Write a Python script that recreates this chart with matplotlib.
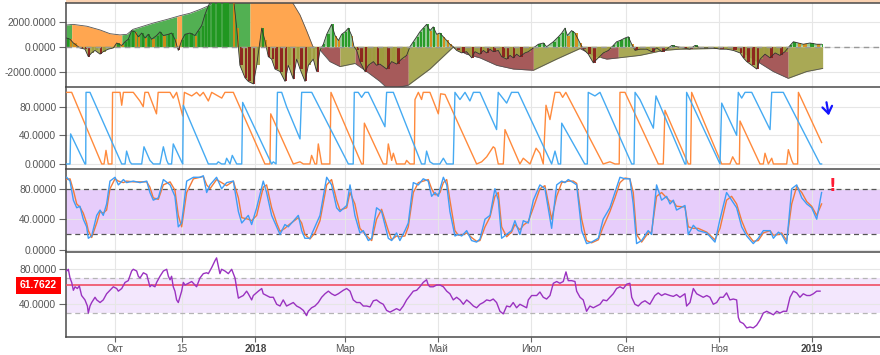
import numpy as np
import datetime as dt
import matplotlib
matplotlib.use("Agg")
import matplotlib.pyplot as plt
import matplotlib.dates as mdates
import matplotlib.transforms as mtransforms
from matplotlib.ticker import FixedLocator, FuncFormatter

plt.rcParams['font.family'] = ['Liberation Sans', 'DejaVu Sans']
plt.rcParams['axes.unicode_minus'] = False

START = mdates.date2num(dt.datetime(2017, 8, 30))

# ---------------- DATA (day offsets from 2017-08-30) ----------------
# Panel 1: smooth envelope (signed) and its regimes
env_days = [0.3, 4.5, 13.6, 22.2, 28.7, 35.3, 39.9, 43.8, 50.4, 56.9, 66.1, 74.6, 81.2, 87.7,
            94.3, 98.2, 113.9, 133.6, 148.7, 153.3, 157.7, 161.8, 166.4, 172.9, 179.5, 189.4,
            197.0, 205.7, 210.1, 216.7, 224.3, 238.5, 253.6, 262.5, 271.3, 282.2, 293.2, 306.3,
            321.6, 336.9, 345.6, 354.4, 362.0, 376.2, 391.5, 402.4, 424.3, 439.7, 450.6, 463.6,
            473.4, 485.5, 496.0]
env_vals = [1750, 1800, 1650, 1350, 1050, 950, 1000, 1400, 1650, 1900, 2200, 2500, 2700, 3000,
            3350, 3800, 4500, 4500, 3500, 2560, 1270, 0, -270, -1200, -1600, -1350,
            -2000, -2800, -3300, -3300, -3100, -1800, -50, -600, -900, -1500, -1800, -1900,
            -1000, -150, -700, -1000, -900, -700, -300, -200, -150, -150, -1000, -2000,
            -2550, -2000, -1750]
env_regime_bounds = [0, 3.6, 36.5, 72.5, 75.7, 120.5, 161.8, 179.5, 189.4, 224.3, 253.6,
                     306.3, 336.9, 362.0, 440.0, 473.4, 496.0]
env_regime = ['up', 'down', 'up', 'down', 'up', 'down', 'fall', 'rise', 'fall', 'rise',
              'fall', 'rise', 'fall', 'rise', 'fall', 'rise']

# Panel 1: detailed oscillator
osc_days = [0.3, 2.5, 4.7, 9.0, 12.3, 14.5, 16.7, 18.9, 22.2, 24.3, 27.6, 30.9, 33.1, 36.4, 38.6,
            40.7, 42.9, 45.1, 47.3, 49.5, 51.7, 53.8, 56.0, 59.3, 61.5, 63.7, 67.0, 69.1, 71.3, 73.5,
            75.7, 77.9, 81.2, 84.4, 86.6, 88.8, 91.0, 93.2, 95.4, 98.6, 103.0, 109.6, 111.8, 113.9,
            117.2, 119.4, 122.7, 124.9, 128.2, 130.3, 132.5, 134.7, 136.9,
            140.2, 143.5, 145.6, 148.9, 151.1, 153.3, 156.6, 158.8, 162.0, 164.2, 166.4, 168.6,
            170.8, 174.0, 176.3, 178.5, 180.6, 182.8, 185.0, 187.2, 188.7, 190.5, 192.6, 195.9,
            198.1, 201.4, 203.5, 205.7, 210.1, 213.4, 216.7, 219.9, 223.2, 225.4, 227.6, 229.8,
            231.9, 234.1, 236.3, 238.5, 240.7, 242.9, 245.0, 247.3, 249.5, 251.6, 253.8, 256.0,
            259.3, 262.5, 265.9, 268.0, 271.3, 273.5, 275.7, 277.9, 280.0, 283.3, 285.5, 288.8,
            291.0, 293.2, 295.3, 297.5, 300.8, 303.0, 306.3, 309.6, 312.9, 315.0, 319.4, 322.7,
            324.9, 327.1, 328.6, 331.4, 333.6,
            336.9, 339.1, 342.3, 345.6, 348.9, 352.2, 355.5, 358.7, 360.9, 363.1, 366.4, 368.6,
            370.8, 373.0, 376.2, 380.6, 383.9, 387.2, 390.5, 393.8, 397.0, 400.3, 404.6, 409.0,
            412.3, 415.6, 420.0, 424.3, 428.7, 433.0, 437.4, 441.8, 444.0, 446.2, 449.5, 452.8,
            455.0, 458.2, 461.5, 464.8, 468.0, 471.3, 474.6, 476.8, 480.0, 483.3, 487.7, 492.1,
            495.3]
osc_vals = [700, 600, 300, -100, -200, -800, -500, -300, -600, -400, -200, -100, 300, 100, 400,
            600, 1300, 1200, 800, 1100, 700, 1000, 600, 900, 1200, 900, 1000, 1100, 600, -300,
            500, 1000, 1100, 900, 1300, 1700, 2600, 3300, 3800, 4000, 4200, 4000, 1500, -1500,
            -2500, -2800, -3000, -1500, 1500, 500, -800, -1000, -1800,
            -2000, -2800, -1500, -2600, -1000, -1800, -2800, -1500, -1000, -2000, -300, 200,
            1000, 1800, 900, 500, 1000, 1200, 1500, 900, 0, -300, -1200, -2000,
            -1500, -1200, -1500, -1400, -1800, -1200, -1400, -1000, -700, 0, 400, 800,
            1200, 1500, 1800, 1300, 1600, 1000, 1100, 800, 500, 200, 0, -300,
            -500, -400, -900, -400, -600, -300, -500, -200, -400, -300, -800, -1000,
            -700, -900, -600, -800, -500, -400, -100, 200, 300, 0, 400, 800,
            1100, 1500, 900, 1300, 1100,
            300, -200, -600, -1300, -900, -500, -300, 100, 400, 500, 700, 800,
            200, -300, -200, -200, -400, -100, -400, -200, 100, 0, -100, -200,
            100, -100, -100, -100, -200, -200, -300, -500, -900, -1200, -1500, -1800,
            -1000, -600, -900, -500, -700, -400, 100, 400, 300, 200, 300, 200,
            200]

# Panel 2: Aroon up (orange) / Aroon down (blue)
aroon_up_days = [0.3, 3.6, 23.3, 24.8, 26.1, 27.6, 30.0, 30.4, 35.3, 36.4, 37.5, 44.0, 48.3, 50.5,
                 51.6, 53.8, 59.2, 60.3, 68.1, 70.2, 72.4, 76.4, 77.5, 82.3, 85.5, 87.7, 89.9,
                 93.2, 95.4, 102.0, 104.1, 109.6, 130.3, 133.6, 134.1, 148.9, 153.3, 155.5, 159.8,
                 160.9, 163.1, 164.2, 165.3, 167.5, 172.9, 173.6, 193.7, 194.8, 195.5, 207.9,
                 210.1, 211.2, 213.4, 214.5, 216.6, 222.1, 223.2, 225.4, 228.2, 228.7, 230.9,
                 233.0, 234.1, 238.5, 244.0, 245.5, 248.4, 269.1, 272.4, 275.7, 280.0, 281.1,
                 283.3, 286.6, 287.7, 297.5, 299.7, 304.1, 308.1, 310.6, 312.8, 314.6, 317.2,
                 320.5, 323.7, 325.5, 327.6, 352.1, 356.5, 359.8, 362.6, 363.1, 366.4, 388.2,
                 391.5, 392.6, 407.9, 409.4, 410.1, 429.8, 435.2, 437.0, 439.6, 441.4, 441.8,
                 454.9, 457.1, 458.2, 460.4, 462.6, 463.7, 472.4, 473.5, 475.7, 476.8, 479.6,
                 480.1, 495.3]
aroon_up = [100, 100, 0, 0, 19, 0, 0, 100, 100, 82, 100, 100, 88, 80,
            100, 100, 70, 100, 100, 92, 100, 67, 100, 95, 100, 95, 100,
            88, 100, 92, 100, 100, 0, 0, 70, 0, 3, 0, 0,
            12, 0, 0, 28, 0, 0, 100, 0, 0, 57, 0,
            0, 28, 5, 15, 0, 0, 5, 0, 0, 90, 100,
            90, 100, 100, 70, 98, 97, 0, 3, 10, 24, 22,
            0, 0, 48, 0, 8, 0, 22, 15, 0, 82, 62,
            100, 100, 93, 100, 0, 3, 0, 0, 100, 100, 0,
            0, 75, 0, 0, 100, 0, 0, 10, 0, 0, 60,
            0, 0, 15, 0, 8, 0, 0, 20, 5, 0, 0,
            100, 30]
aroon_dn_days = [0.3, 2.5, 2.9, 12.3, 12.8, 13.0, 15.6, 36.4, 38.6, 39.6, 41.8, 42.9, 49.5, 51.0,
                 54.9, 57.1, 61.5, 63.7, 65.9, 67.0, 69.1, 70.2, 75.7, 76.4, 76.8, 93.2, 98.6,
                 99.7, 101.9, 104.1, 105.2, 107.4, 108.9, 111.8, 115.1, 115.7, 134.7, 135.8,
                 137.6, 138.5, 141.3, 144.5, 153.3, 154.4, 161.0, 185.0, 188.2, 188.9, 191.5,
                 193.7, 195.9, 198.1, 209.0, 210.1, 214.5, 233.0, 235.2, 236.3, 238.5, 240.7,
                 245.0, 247.3, 249.5, 253.8, 254.9, 258.2, 261.5, 264.7, 267.0, 271.3, 282.2,
                 283.3, 288.8, 292.0, 296.4, 318.3, 320.5, 322.7, 324.2, 324.9, 340.0, 341.7,
                 342.3, 346.7, 350.0, 370.8, 372.3, 373.0, 376.2, 385.0, 386.7, 405.7, 406.4,
                 406.8, 428.7, 429.8, 439.6, 440.7, 442.9, 445.1, 449.5, 461.5, 462.6, 470.2,
                 494.3, 495.3]
aroon_dn = [0, 0, 42, 0, 0, 100, 100, 0, 0, 18, 3, 0, 0, 24,
            5, 0, 0, 24, 5, 0, 0, 28, 3, 0, 82, 0, 0,
            3, 0, 0, 8, 0, 12, 0, 0, 86, 0, 3,
            0, 100, 100, 80, 35, 100, 100, 0, 0, 100, 100,
            93, 100, 100, 52, 100, 100, 0, 0, 18, 3, 0,
            0, 8, 0, 0, 100, 90, 100, 88, 100, 100, 48,
            100, 85, 100, 100, 0, 18, 0, 0, 57, 0, 0,
            100, 95, 100, 0, 0, 100, 90, 50, 95, 0, 0,
            100, 0, 85, 40, 100, 92, 100, 100, 48, 100, 100,
            0, 0]

# Panel 3: Stochastic %K (blue) and %D (orange)
stoch_days = [0.3, 2.5, 4.7, 6.9, 9.0, 11.2, 13.4, 14.5, 16.7, 20.0, 22.2, 24.3, 26.5, 28.7, 32.0,
              34.2, 37.5, 39.6, 44.0, 48.4, 52.8, 54.9, 57.1, 60.4, 63.7, 68.1, 71.3, 73.5, 75.7,
              79.0, 83.4, 87.7, 89.9, 92.1, 94.3, 98.6, 101.9, 105.2, 109.6, 112.9, 115.1, 119.4,
              121.6, 124.9, 129.2, 131.4, 134.7, 138.0, 140.2, 143.4, 145.6, 152.2, 154.4, 156.5,
              159.8, 163.1, 166.4, 170.8, 174.0, 177.3, 179.5, 183.9, 186.1, 189.3, 192.6, 194.8,
              198.1, 200.3, 203.5, 206.8, 211.2, 213.4, 216.6, 218.8, 222.1, 224.3, 227.6, 230.9,
              234.1, 237.4, 239.6, 241.8, 244.0,
              245.1, 247.3, 249.5, 251.6, 254.9, 257.1, 259.3, 262.6, 265.8, 269.1, 271.3, 274.6,
              277.9, 281.1, 283.3, 285.5, 288.8, 292.0, 294.2, 297.5, 299.7, 303.0, 306.3, 310.6,
              313.9, 318.3, 321.6, 324.9, 327.0, 329.2, 332.5, 334.7, 338.0, 341.2, 344.5, 348.9,
              352.1, 356.5, 359.8, 363.1, 366.4, 369.6, 371.8, 374.0, 377.3, 381.6, 383.8, 387.1,
              390.4, 393.7, 395.9, 398.1, 400.2, 405.7, 407.9, 411.2, 414.4, 420.0, 425.4, 428.7,
              433.0, 436.3, 439.6, 442.9, 446.2, 450.5, 453.8, 457.1, 461.5, 463.7, 467.0, 469.1,
              472.4, 475.7, 479.0, 482.3, 485.6, 488.8, 492.1, 495.3]
stoch_k = [95, 90, 65, 55, 57, 40, 30, 15, 18, 45, 52, 45, 60, 90, 95,
           85, 92, 88, 90, 88, 90, 75, 65, 68, 92, 85, 70, 30, 35,
           90, 95, 95, 97, 75, 85, 95, 80, 88, 90, 50, 35, 45,
           33, 55, 90, 75, 45, 30, 20, 33, 30, 45, 25, 15,
           15, 30, 45, 95, 85, 55, 50, 58, 85, 45, 22, 25,
           12, 15, 55, 50, 15, 12, 22, 12, 25, 35, 88, 85,
           93, 90, 70, 75, 70,
           80, 95, 85, 50, 18, 20, 18, 25, 12, 10, 14, 40,
           45, 80, 65, 15, 20, 25, 38, 20, 38, 35, 65, 85,
           80, 28, 85, 90, 88, 92, 88, 85, 25, 8, 10, 15,
           40, 55, 75, 95, 93, 93, 60, 8, 12, 25, 20, 85,
           65, 70, 60, 65, 52, 58, 20, 32, 25, 22, 10, 40,
           75, 65, 55, 30, 18, 8, 15, 25, 25, 15, 23, 20,
           8, 80, 85, 68, 60, 55, 40, 75]
stoch_d = [92, 93, 78, 60, 56, 48, 35, 25, 16, 35, 50, 48, 52, 80, 93,
           90, 88, 90, 89, 89, 89, 82, 68, 66, 85, 89, 78, 45, 30,
           75, 93, 95, 96, 85, 80, 92, 88, 84, 90, 68, 42, 40,
           38, 45, 82, 85, 55, 35, 24, 28, 32, 42, 35, 20,
           14, 22, 38, 85, 92, 65, 52, 55, 75, 60, 28, 23,
           16, 12, 40, 53, 25, 13, 18, 17, 18, 30, 75, 88,
           90, 92, 80, 72, 73,
           75, 88, 92, 65, 25, 19, 19, 22, 16, 11, 12, 30,
           43, 70, 75, 30, 17, 23, 33, 26, 32, 37, 55, 80,
           84, 40, 70, 88, 89, 90, 90, 87, 40, 12, 9, 13,
           30, 50, 68, 88, 94, 93, 75, 20, 10, 22, 23, 70,
           75, 68, 64, 63, 57, 56, 30, 28, 28, 23, 13, 28,
           65, 70, 60, 38, 22, 11, 12, 22, 25, 19, 20, 22,
           12, 60, 83, 75, 63, 57, 45, 60]

# Panel 4: RSI
rsi_days = [0.3, 1.4, 2.5, 3.6, 4.7, 5.8, 7.3, 8.6, 10.1, 12.3, 13.9, 14.5, 15.6, 16.7, 18.9,
            20.0, 22.2, 24.3, 26.5, 28.7, 30.9, 33.1, 34.2, 36.4, 38.6, 40.7, 42.9, 44.0, 46.2,
            47.3, 48.4, 50.6, 52.8, 54.9, 56.0, 58.2, 59.3, 61.5, 63.7, 65.9, 67.0, 68.1, 69.1,
            70.2, 71.3, 72.4, 73.5, 75.7, 76.8, 77.9, 80.1, 82.3, 84.4, 85.5, 87.7, 89.9, 92.1,
            93.2, 95.4, 97.6, 98.6, 99.7, 100.8, 101.9, 104.1, 106.3, 108.5, 110.7, 111.8, 112.9,
            113.9, 116.1, 118.3, 119.4, 121.6, 122.7, 126.0, 128.2, 129.2, 131.4, 133.6, 135.8,
            138.0, 140.2, 142.3, 144.5, 146.7, 148.9, 151.1, 153.3, 155.5, 157.6, 158.7, 160.9,
            163.1, 165.3, 167.5, 169.7, 171.9, 174.0, 176.2, 178.4, 181.7, 183.9, 186.1, 188.2,
            190.4, 192.6, 194.8, 197.0, 199.2, 201.4, 203.5, 205.7, 207.9, 210.1, 212.3, 214.5,
            216.6, 218.8, 221.0, 223.2, 225.4, 227.6, 229.8, 231.9, 234.1, 236.3, 237.4, 238.5,
            240.7, 242.9,
            245.1, 247.3, 249.5, 251.6, 253.8, 256.0, 258.2, 260.4, 262.6, 264.7, 267.0, 269.1,
            271.3, 273.5, 275.7, 277.9, 280.0, 282.2, 284.4, 286.6, 288.8, 291.0, 293.1, 295.3,
            297.5, 299.7, 301.9, 303.0, 305.2, 308.5, 310.6, 312.8, 315.0, 317.2, 319.4, 321.6,
            323.7, 325.9, 327.7, 329.2, 331.4, 333.6, 334.7, 336.9, 339.0, 341.2, 343.4, 345.6,
            347.8, 350.0, 352.1, 354.4, 356.5, 358.7, 360.9, 363.1, 365.3, 367.5, 369.6, 370.8,
            372.9, 375.1, 377.3, 379.5, 382.7, 386.0, 388.2, 390.4, 392.6, 395.9, 398.1, 400.2,
            402.4, 405.7, 406.8, 409.0, 411.2, 413.4, 415.6, 417.7, 420.0, 422.1, 424.3, 426.5,
            428.7, 430.8, 433.0, 435.2, 437.4, 439.6, 440.7, 441.8, 444.0, 446.2, 448.4, 450.5,
            452.7, 454.9, 457.1, 459.3, 461.5, 463.7, 465.9, 468.0, 470.2, 472.4, 474.6, 476.8,
            479.0, 481.1, 483.3, 485.6, 487.7, 489.9, 492.1, 494.3]
rsi_vals = [78, 80, 70, 65, 56, 60, 58, 61, 50, 45, 38, 30, 38, 42, 48,
            45, 42, 45, 52, 56, 60, 58, 55, 58, 65, 67, 78, 80, 78,
            72, 70, 76, 74, 60, 62, 60, 65, 72, 78, 80, 72, 68, 72,
            60, 55, 45, 42, 55, 65, 62, 64, 66, 62, 60, 70, 75, 76,
            75, 82, 90, 93, 84, 75, 80, 78, 75, 80, 70, 58, 47,
            48, 50, 55, 52, 45, 50, 55, 58, 52, 50, 48, 48,
            40, 38, 45, 38, 40, 42, 38, 36, 33, 27, 32, 36,
            38, 42, 48, 52, 55, 52, 50, 52, 56, 58, 55, 45,
            42, 42, 38, 38, 37, 44, 45, 42, 40, 33, 31, 33,
            35, 33, 38, 45, 50, 55, 56, 60, 65, 68, 62, 60,
            60, 62,
            62, 60, 55, 52, 45, 48, 45, 40, 45, 42, 38, 36,
            40, 42, 45, 44, 46, 42, 32, 29, 38, 37, 42, 36,
            40, 38, 36, 45, 50, 50, 54, 48, 46, 50, 64, 66,
            64, 66, 77, 67, 67, 66, 55, 48, 45, 32, 38, 36,
            38, 40, 45, 44, 48, 52, 58, 60, 58, 63, 64, 48,
            40, 38, 42, 44, 40, 50, 53, 50, 52, 50, 49, 51,
            48, 52, 38, 42, 58, 52, 50, 48, 50, 48, 40, 42,
            48, 48, 53, 45, 46, 45, 25, 20, 18, 13, 14, 13,
            16, 22, 30, 32, 30, 28, 32, 30, 32, 32, 48, 55,
            53, 48, 52, 50, 50, 52, 55, 55]
rsi_last = 61.7622

tick_dates = [dt.datetime(2017, 10, 1), dt.datetime(2017, 11, 14), dt.datetime(2018, 1, 1),
              dt.datetime(2018, 3, 1), dt.datetime(2018, 5, 1), dt.datetime(2018, 7, 1),
              dt.datetime(2018, 9, 1), dt.datetime(2018, 11, 1), dt.datetime(2019, 1, 1)]
tick_labels = ['Окт', '15', '2018', 'Мар', 'Май', 'Июл', 'Сен', 'Ноя', '2019']

# ---------------- FIGURE ----------------
W, H = 880, 355
fig = plt.figure(figsize=(W / 100, H / 100), dpi=100)
LEFT = 66


def add_axes(top, bottom):
    return fig.add_axes([LEFT / W, (H - bottom) / H, (W - LEFT) / W, (bottom - top) / H])


ax0 = add_axes(0, 3.3)
ax1 = add_axes(3.3, 86.7)
ax2 = add_axes(86.7, 169.2)
ax3 = add_axes(169.2, 251.6)
ax4 = add_axes(251.6, 337.0)

X0, X1 = START - 0.13, START + 533.6
tick_x = [mdates.date2num(d) for d in tick_dates]

ax0.set_xlim(X0, X1)
ax0.set_facecolor('#fad2b2')
ax0.set_xticks([]); ax0.set_yticks([])
for s in ax0.spines.values():
    s.set_visible(False)

SPINE = '#4a4a4a'
fmt = FuncFormatter(lambda v, p: f'{v:.4f}')
for ax in (ax1, ax2, ax3, ax4):
    ax.set_xlim(X0, X1)
    ax.spines['right'].set_visible(False)
    ax.spines['bottom'].set_visible(ax is ax4)
    for s in ('top', 'left', 'bottom'):
        ax.spines[s].set_color(SPINE)
        ax.spines[s].set_linewidth(1.1)
    ax.xaxis.set_major_locator(FixedLocator(tick_x))
    ax.grid(True, color='#e6e6e6', lw=0.8)
    ax.set_axisbelow(True)
    ax.yaxis.set_major_formatter(fmt)
    ax.tick_params(axis='y', length=5, width=0.8, color='#666666', labelsize=7.4,
                   labelcolor='#555555', pad=2)
    ax.tick_params(axis='x', length=0, labelbottom=False)

# ---- Panel 1 ----
ed = np.array(env_days, float)
ev = np.array(env_vals, float)
fill_cols = {'up': '#52b052', 'down': '#ffa650', 'fall': '#a65a5a', 'rise': '#a9a955'}
for k, kind in enumerate(env_regime):
    d0, d1 = env_regime_bounds[k], env_regime_bounds[k + 1]
    m = (ed > d0) & (ed < d1)
    xs = np.concatenate([[d0], ed[m], [d1]])
    ys = np.concatenate([[np.interp(d0, ed, ev)], ev[m], [np.interp(d1, ed, ev)]])
    ax1.fill_between(START + xs, 0, ys, color=fill_cols[kind], lw=0, zorder=1)
ax1.plot(START + ed, ev, color='#555555', lw=0.6, zorder=2)

od = np.array(osc_days, float)
ov = np.array(osc_vals, float)
ax1.fill_between(START + od, 0, ov, where=ov >= 0, interpolate=True, color='#3c9e3c',
                 alpha=0.55, lw=0, zorder=2.5)
ax1.fill_between(START + od, 0, ov, where=ov <= 0, interpolate=True, color='#a3a347',
                 alpha=0.9, lw=0, zorder=2.5)
dv = np.diff(ov, prepend=ov[0])
widths = np.diff(od, append=od[-1] + 2.0)
bar_cols = []
for v, d in zip(ov, dv):
    if v >= 0:
        bar_cols.append('#1e961e' if d >= 0 else '#dc8a12')
    else:
        bar_cols.append('#9e9e3e' if d >= 0 else '#8b1a1a')
ax1.bar(START + od, ov, width=widths * 0.6, align='edge', color=bar_cols, lw=0,
        alpha=0.9, zorder=3)
ax1.plot(START + od, ov, color='#333333', lw=0.6, zorder=4)
ax1.axhline(0, color='#999999', lw=1.0, ls=(0, (4, 3)), zorder=5)
ax1.set_ylim(-3224, 3498)
ax1.set_yticks([-2000, 0, 2000])

# ---- Panel 2 ----
ax2.plot(START + np.array(aroon_up_days), aroon_up, color='#ff8a3c', lw=1.0, zorder=3)
ax2.plot(START + np.array(aroon_dn_days), aroon_dn, color='#45aaf2', lw=1.0, zorder=3)
ax2.set_ylim(-7.3, 107.9)
ax2.set_yticks([0, 40, 80])
ax2.annotate('', xy=(START + 500.3, 64), xytext=(START + 498.2, 90),
             arrowprops=dict(arrowstyle='->,head_length=0.5,head_width=0.35',
                             color='#1414ff', lw=1.6))

# ---- Panel 3 ----
ax3.axhspan(20, 80, color='#e7cdfb', lw=0, zorder=0.2)
ax3.axhline(80, color='#555555', lw=0.9, ls=(0, (4, 3)), zorder=2)
ax3.axhline(20, color='#555555', lw=0.9, ls=(0, (4, 3)), zorder=2)
sd = START + np.array(stoch_days)
ax3.plot(sd, stoch_d, color='#f27a3a', lw=1.0, zorder=3)
ax3.plot(sd, stoch_k, color='#3f9df5', lw=1.0, zorder=4)
ax3.set_ylim(-2.5, 105.6)
ax3.set_yticks([0, 40, 80])
ax3.text(START + 502.1, 84, '!', color='#ff1a33', fontsize=12, fontweight='bold',
         ha='center', va='center', family='DejaVu Sans')

# ---- Panel 4 ----
ax4.axhspan(30, 70, color='#f3e7fd', lw=0, zorder=0.2)
ax4.axhline(70, color='#b5b5b5', lw=0.9, ls=(0, (4, 3)), zorder=2)
ax4.axhline(30, color='#b5b5b5', lw=0.9, ls=(0, (4, 3)), zorder=2)
ax4.axhline(rsi_last, color='#f04e64', lw=1.2, zorder=3)
ax4.plot(START + np.array(rsi_days), rsi_vals, color='#9a32c0', lw=1.0, zorder=4)
ax4.set_ylim(2.6, 100.2)
ax4.set_yticks([40, 80])
trans = mtransforms.blended_transform_factory(ax4.transAxes, ax4.transData)
ax4.text(-9 / (W - LEFT), rsi_last, f'{rsi_last:.4f}', transform=trans, ha='right',
         va='center', color='white', fontsize=7.4, fontweight='bold', zorder=10,
         bbox=dict(boxstyle='square,pad=0.35', fc='#ff0000', ec='none'), clip_on=False)
ax4.set_xticks(tick_x)
ax4.set_xticklabels(tick_labels)
ax4.tick_params(axis='x', length=3.5, width=0.8, color='#666666', labelsize=7.2,
                labelcolor='#555555', pad=1.5, labelbottom=True)
for lbl in ax4.get_xticklabels():
    if lbl.get_text() in ('2018', '2019'):
        lbl.set_fontweight('bold')
        lbl.set_color('#444444')

fig.savefig('out.png', dpi=100)
